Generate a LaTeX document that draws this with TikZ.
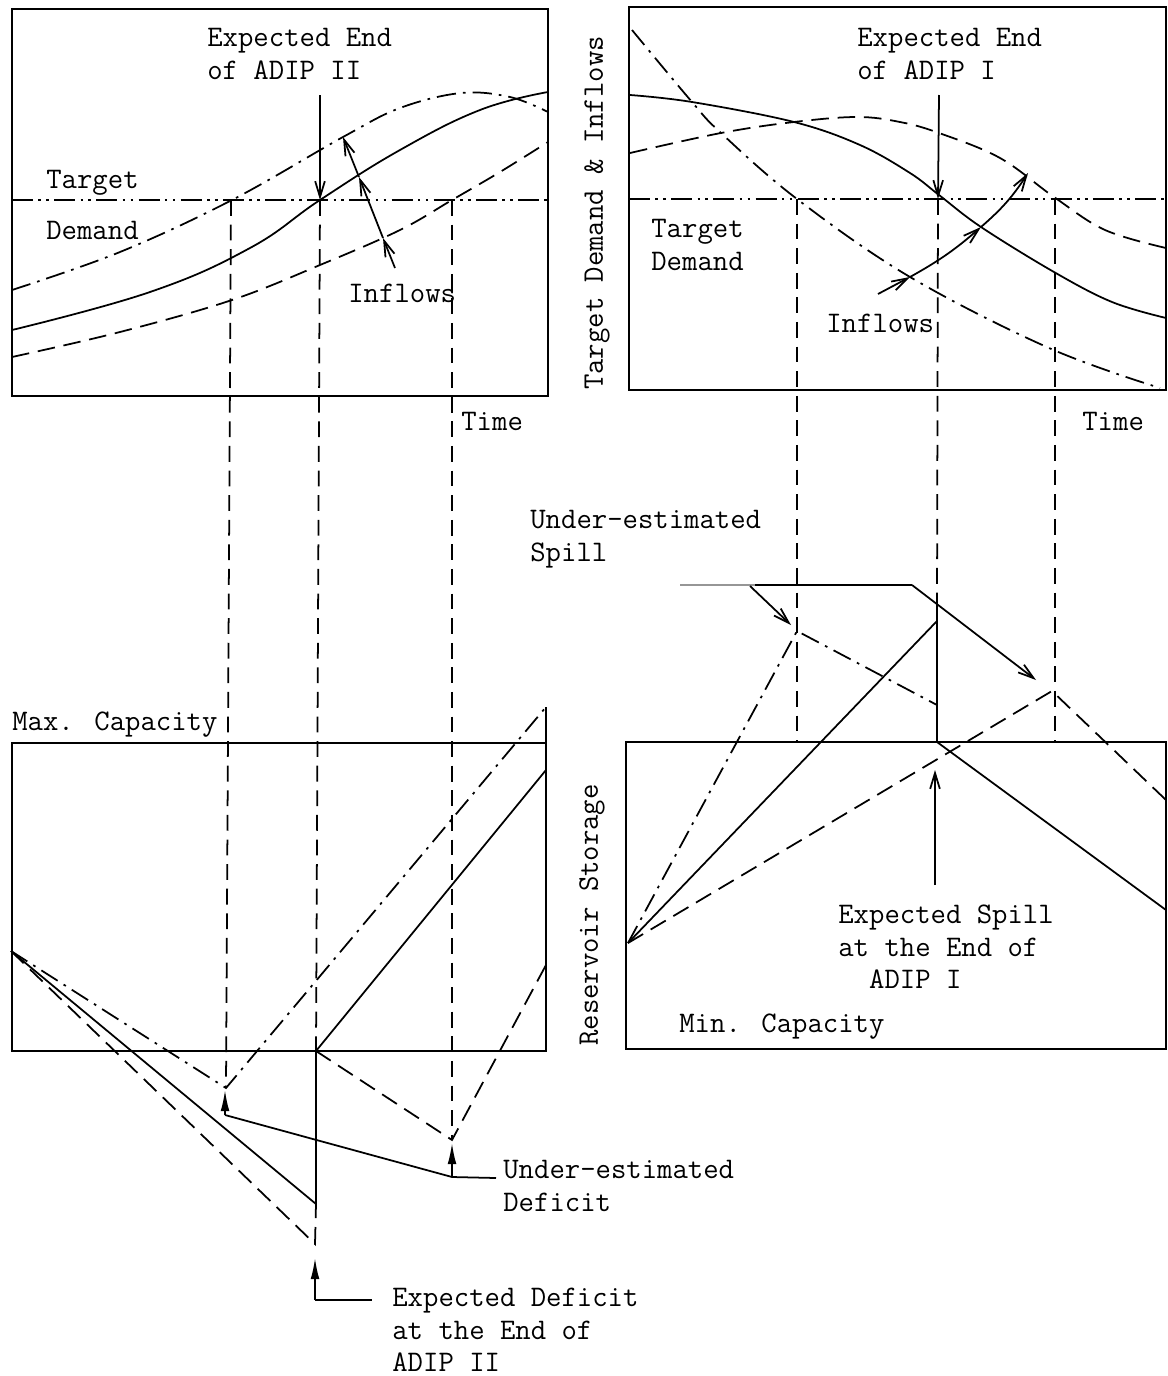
\documentclass[tikz,border=0pt]{standalone}
\usepackage{fontspec}
\usepackage{tikz}
\usetikzlibrary{arrows.meta, positioning, calc}
\definecolor{scangray}{RGB}{150, 150, 150}

\tikzset{
    lbl/.style={font=\fontsize{17}{18.5}\selectfont\ttfamily, inner sep=0pt, align=left},
    frame/.style={line width=1.1pt},
    curve/.style={line width=1pt},
    dashdot/.style={dash pattern=on 11pt off 4pt on 1.5pt off 4pt},
    dashdotdot/.style={dash pattern=on 12pt off 3pt on 1.5pt off 3pt on 1.5pt off 3pt},
    longdash/.style={dash pattern=on 10pt off 5pt},
    guide/.style={line width=1pt, dash pattern=on 9pt off 5pt},
    barb/.style={line width=1pt, -{Straight Barb[length=9pt,width=5.5pt]}},
    spike/.style={line width=1pt, -{Latex[length=12pt,width=5pt]}}
}

\begin{document}
\begin{tikzpicture}[x=0.02cm, y=-0.02cm]
    \useasboundingbox (0,0) rectangle (1168,1376);

    % Frames
    \draw[frame] (12,9) rectangle (548,396);
    \draw[frame] (629,7) rectangle (1166,390);
    \draw[frame] (12,743) rectangle (546,1051);
    \draw[frame] (626,742) rectangle (1166,1049);

    % Target demand
    \draw[curve, dashdotdot] (12,200) -- (548,200);
    \draw[curve, dashdotdot] (629,199) -- (1166,199);

    % Inflow curves, left
    \draw[curve, dashdot] plot[smooth, tension=0.6] coordinates {(12,290) (120,252) (232,200) (343,137) (400,108) (461,93) (510,97) (548,112)};
    \draw[curve] plot[smooth, tension=0.7] coordinates {(12,330) (150,292) (250,248) (320,200) (400,150) (480,110) (548,92)};
    \draw[curve, longdash] plot[smooth, tension=0.6] coordinates {(12,357) (120,332) (232,300) (320,265) (400,230) (452,200) (500,172) (548,142)};

    % Inflow curves, right
    \draw[curve, dashdot] plot[smooth, tension=0.6] coordinates {(632,30) (692,102) (721,133) (797,199) (910,277) (1049,348) (1160,388)};
    \draw[curve] plot[smooth, tension=0.6] coordinates {(630,95) (692,102) (794,122) (860,145) (910,173) (939,195) (981,227) (1054,272) (1112,302) (1166,318)};
    \draw[curve, longdash] plot[smooth, tension=0.6] coordinates {(630,153) (721,133) (794,122) (857,117) (900,122) (939,133) (1000,158) (1054,197) (1105,230) (1166,248)};

    % Points
    \coordinate (tlA) at (231,200);
    \coordinate (tlB) at (320,200);
    \coordinate (tlC) at (452,200);
    \coordinate (trA) at (797,199);
    \coordinate (trB) at (938,199);
    \coordinate (trC) at (1055,199);
    \coordinate (llS) at (11,951);
    \coordinate (llDot) at (226,1088);
    \coordinate (llSol) at (316,1204);
    \coordinate (llMid) at (316,1051);
    \coordinate (llDash) at (315,1244);
    \coordinate (llLow) at (452,1140);
    \coordinate (lrS) at (628,943);
    \coordinate (lrDot) at (797,631);
    \coordinate (lrSol) at (937,621);
    \coordinate (lrMid) at (937,742);
    \coordinate (lrDash) at (1052,691);

    % Projection guides
    \draw[guide] (tlA) -- (llDot);
    \draw[guide] (tlB) -- (llMid);
    \draw[guide] (tlC) -- (llLow);
    \draw[guide] (trA) -- (797,742);
    \draw[guide] (trB) -- (937,604);
    \draw[guide] (trC) -- (1055,742);

    % Storage, left
    \draw[curve, dashdot] (llS) -- (llDot) -- (546,707);
    \draw[curve] (546,707) -- (546,743);
    \draw[curve] (llS) -- (llSol) -- (llMid) -- (546,770);
    \draw[curve, longdash] (llS) -- (llDash) -- (llSol);
    \draw[curve, longdash] (llMid) -- (llLow) -- (546,965);

    % Storage, right
    \draw[curve, dashdot] (lrS) -- (lrDot) -- (937,705);
    \draw[curve] (lrS) -- (lrSol);
    \draw[curve] (937,604) -- (lrMid) -- (1166,910);
    \draw[curve, longdash] (lrS) -- (lrDash) -- (1166,800);

    % Labels, top
    \node[lbl, anchor=west] (endII) at (207,54) {Expected End\\of ADIP II};
    \node[lbl, anchor=west] (endI) at (857,54) {Expected End\\of ADIP I};
    \node[lbl, anchor=west] (tgtL) at (46,183) {Target};
    \node[lbl, anchor=west] (dmdL) at (46,230) {Demand};
    \node[lbl, anchor=west] (tgdR) at (651,245) {Target\\Demand};
    \node[lbl, anchor=west] (inflL) at (348,293) {Inflows};
    \node[lbl, anchor=west] (inflR) at (826,323) {Inflows};
    \node[lbl, anchor=west] (timeL) at (461,421) {Time};
    \node[lbl, anchor=west] (timeR) at (1082,421) {Time};
    \node[lbl, rotate=90] (yTop) at (597,213) {Target Demand \& Inflows};

    % Labels, bottom
    \node[lbl, anchor=west] (maxCap) at (12,725) {Max. Capacity};
    \node[lbl, anchor=west] (minCap) at (679,1027) {Min. Capacity};
    \node[lbl, rotate=90] (yBot) at (592,915) {Reservoir Storage};
    \node[lbl, anchor=west] (uSpill) at (530,539) {Under-estimated\\Spill};
    \node[lbl, anchor=west] (eSpill) at (838,947) {Expected Spill\\at the End of\\\hphantom{ab}ADIP I};
    \node[lbl, anchor=west] (uDef) at (503,1186) {Under-estimated\\Deficit};
    \node[lbl, anchor=west] (eDef) at (392,1330) {Expected Deficit\\at the End of\\ADIP II};

    % Expected end arrows
    \draw[barb] (320,95) -- (tlB);
    \draw[barb] (939,95) -- (trB);

    % Inflow arrows, left
    \coordinate (tlI0) at (395,268);
    \coordinate (tlI1) at (383,238);
    \coordinate (tlI2) at (359,177);
    \coordinate (tlI3) at (343,137);
    \draw[barb] (tlI0) -- (tlI1);
    \draw[barb] (tlI1) -- (tlI2);
    \draw[barb] (tlI2) -- (tlI3);

    % Inflow arrows, right
    \coordinate (trI0) at (878,294);
    \coordinate (trI1) at (910,277);
    \coordinate (trI2) at (981,227);
    \coordinate (trI3) at (1028,173);
    \draw[barb] (trI0) -- (trI1);
    \draw[barb] (trI1) to[bend right=6] (trI2);
    \draw[barb] (trI2) to[bend right=8] (trI3);

    % Spill callouts
    \coordinate (spA) at (680,585);
    \coordinate (spB) at (755,585);
    \coordinate (spC) at (912,585);
    \draw[line width=1pt, scangray] (spA) -- (spB);
    \draw[line width=1pt] (spB) -- (spC);
    \draw[barb] (spC) -- (1036,680);
    \draw[barb] (750,586) -- (791,625);
    \draw[barb] (935,885) -- (935,770);

    % Deficit callouts
    \coordinate (dfA) at (225,1115);
    \coordinate (dfB) at (452,1177);
    \coordinate (dfC) at (496,1178);
    \coordinate (dfD) at (315,1300);
    \coordinate (dfE) at (372,1300);
    \draw[spike] (dfA) -- (225,1090);
    \draw[line width=1pt] (dfA) -- (dfB) -- (dfC);
    \draw[spike] (dfB) -- (452,1143);
    \draw[spike] (dfD) -- (315,1258);
    \draw[line width=1pt] (dfD) -- (dfE);
\end{tikzpicture}
\end{document}
